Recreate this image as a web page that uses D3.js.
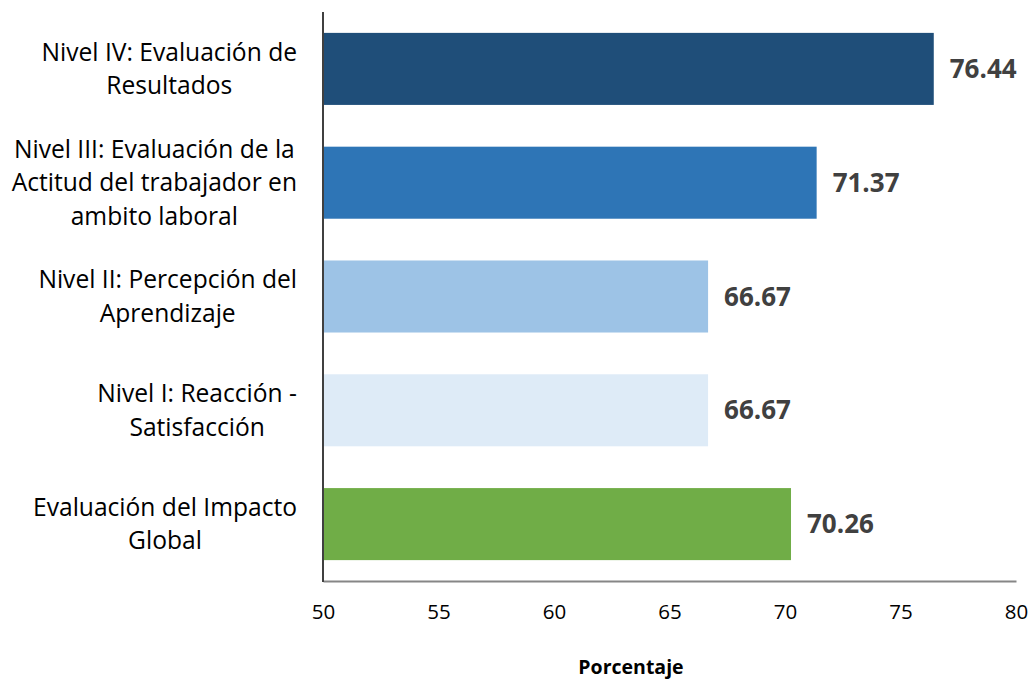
<!DOCTYPE html>
<html>
<head>
<meta charset="utf-8">
<script src="https://cdn.jsdelivr.net/npm/d3@7"></script>
<style>
  html, body { margin: 0; padding: 0; background: #fff; }
  svg text { font-family: "Open Sans", "Lato", sans-serif; }
</style>
</head>
<body>
<svg id="chart" width="1032" height="679"></svg>
<script>
// Categories (top to bottom) and their percentages
const categories = [
  ["Nivel IV: Evaluación de", "Resultados"],
  ["Nivel III: Evaluación de la", "Actitud del trabajador en", "ambito laboral"],
  ["Nivel II: Percepción del", "Aprendizaje"],
  ["Nivel I: Reacción -", "Satisfacción"],
  ["Evaluación del Impacto", "Global"]
];
const values = [76.44, 71.37, 66.67, 66.67, 70.26];
const barColors = ["#1F4E79", "#2E75B6", "#9DC3E6", "#DEEBF7", "#70AD47"];
const xTicks = [50, 55, 60, 65, 70, 75, 80];
const xTitle = "Porcentaje";

const svg = d3.select("#chart");
const margin = { left: 323, right: 16, top: 12, bottom: 98 };
const W = 1032, H = 679;

const x = d3.scaleLinear().domain([50, 80]).range([margin.left, W - margin.right]);
const y = d3.scaleBand()
  .domain(d3.range(values.length))
  .range([margin.top, H - margin.bottom])
  .paddingInner(0.367)
  .paddingOuter(0.1835);

// Bars
svg.append("g").selectAll("rect")
  .data(values)
  .join("rect")
  .attr("x", x(50))
  .attr("y", (d, i) => y(i))
  .attr("width", d => x(d) - x(50))
  .attr("height", y.bandwidth())
  .attr("fill", (d, i) => barColors[i]);

// Value labels
svg.append("g").selectAll("text")
  .data(values)
  .join("text")
  .attr("x", d => x(d) + 16)
  .attr("y", (d, i) => y(i) + y.bandwidth() / 2)
  .attr("dy", "0.35em")
  .attr("font-size", 26)
  .attr("font-weight", "bold")
  .attr("fill", "#404040")
  .text(d => d.toFixed(2));

// Bottom axis (no tick marks)
const xAxis = svg.append("g")
  .attr("transform", `translate(0,${H - margin.bottom})`)
  .call(d3.axisBottom(x).tickValues(xTicks).tickSize(0).tickPadding(23).tickFormat(d3.format("d")));
xAxis.select(".domain").attr("stroke", "#868686").attr("stroke-width", 2);
xAxis.selectAll("text").attr("font-size", 20.5).attr("fill", "#000")
  .style("font-family", "'Open Sans', sans-serif");

// Vertical category axis line
svg.append("line")
  .attr("x1", x(50)).attr("x2", x(50))
  .attr("y1", margin.top).attr("y2", H - margin.bottom + 1)
  .attr("stroke", "#404040").attr("stroke-width", 2);

// Category labels: multi-line, centred within a block right-aligned at the axis
const labelRight = 297;
const lineH = 33.5;
const labelSize = 24.6;
const labelG = svg.append("g");
categories.forEach((lines, i) => {
  const t = labelG.append("text")
    .attr("font-size", labelSize)
    .attr("fill", "#000")
    .attr("text-anchor", "middle");
  const cy = y(i) + y.bandwidth() / 2;
  lines.forEach((ln, k) => {
    t.append("tspan")
      .attr("y", cy + (k - (lines.length - 1) / 2) * lineH)
      .attr("dy", "0.35em")
      .text(ln);
  });
  const widths = t.selectAll("tspan").nodes().map(n => n.getComputedTextLength());
  const maxW = d3.max(widths);
  t.selectAll("tspan").attr("x", labelRight - maxW / 2);
});

// Axis title
svg.append("text")
  .attr("x", 631)
  .attr("y", 667)
  .attr("dy", "0.35em")
  .attr("text-anchor", "middle")
  .attr("font-size", 19.5)
  .attr("font-weight", "bold")
  .attr("fill", "#000")
  .text(xTitle);
</script>
</body>
</html>
